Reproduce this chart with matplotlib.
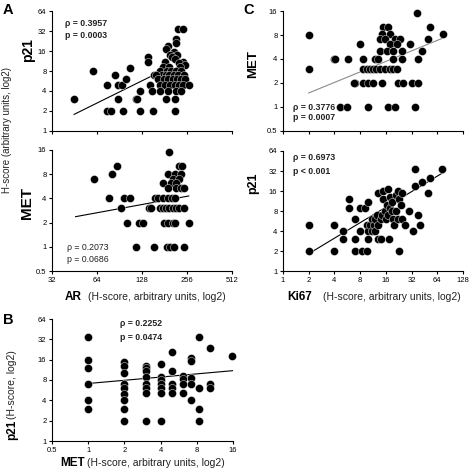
import matplotlib
matplotlib.use("Agg")
import matplotlib.pyplot as plt

plt.rcParams["font.family"] = ["Liberation Sans", "DejaVu Sans"]

# ---- panel A, top: AR vs p21 ----
a1_ar = [45, 60, 75, 75, 80, 85, 89, 94, 89, 96, 100, 106, 116, 119, 124, 124,
         140, 140, 144, 149, 151, 154,
         223, 240, 215, 215, 191, 185, 208, 198, 220, 203, 212, 182, 242, 225, 250,
         178, 194, 230, 170, 188, 200, 215, 235,
         175, 185, 195, 210, 222, 245, 160,
         165, 180, 190, 205, 218, 232, 250,
         170, 183, 197, 212, 228, 240, 262,
         168, 190, 215, 235, 185, 212, 213]
a1_p21 = [3, 8, 5, 2, 2, 7, 5, 5, 3, 2, 6, 9, 3, 3, 4, 2,
          13, 11, 5, 4, 2, 7,
          34, 34, 24, 21, 19, 17, 15.6, 14, 14, 13, 12, 11, 11, 10.5, 10,
          9.3, 9.3, 9.3, 8, 8, 8, 8, 8,
          7, 7, 7, 7, 7, 7, 7,
          6, 6, 6, 6, 6, 6, 6,
          5, 5, 5, 5, 5, 5, 5,
          4, 4, 4, 4, 3, 3, 2]
a1_fit_x = [45, 154]
a1_fit_y = [1.78, 7.0]

# ---- panel A, bottom: AR vs MET ----
a2_ar = [61, 77, 81, 87, 92, 97, 107, 102, 123, 129, 117, 142, 148, 154, 156,
         195, 225, 236, 190, 213, 232, 205, 225, 178, 200, 215,
         190, 215, 232, 245, 165, 178, 192, 202, 213,
         168, 176, 185, 195, 205, 215, 228, 243,
         180, 190, 205, 213, 262, 188, 198, 210, 243]
a2_met = [7, 4, 8, 10, 3, 4, 4, 2, 2, 2, 1, 3, 3, 1, 4,
          15, 10, 10, 8, 8, 8, 7, 7, 6.2, 6.2, 6.2,
          5.4, 5.4, 5.4, 5.4, 4, 4, 4, 4, 4,
          3, 3, 3, 3, 3, 3, 3, 3,
          2, 2, 2, 2, 2, 1, 1, 1, 1]
a2_fit_x = [46, 263]
a2_fit_y = [2.37, 4.29]

# ---- panel B: MET vs p21 ----
b_met = [1, 1, 1, 1, 1, 1,
         2, 2, 2, 2, 2, 2, 2, 2, 2,
         3, 3, 3, 3, 3, 3, 3, 3,
         4, 4, 4, 4, 4, 4, 4,
         5, 5, 5, 5, 5,
         6.2, 6.2, 6.2, 6.2,
         7.2, 7.2, 7.2, 7.2, 7.2,
         8.3, 8.3, 8.3, 8.3,
         10.3, 10.3, 10.3, 15.6]
b_p21 = [35, 16, 12, 7, 4, 3,
         15, 13, 10, 7, 6, 5, 4, 3, 2,
         13, 12, 11, 9, 7, 6, 5.2, 2,
         14, 9, 8, 7, 6, 5.1, 2,
         21, 11, 7, 6, 5.1,
         9.2, 8.2, 7, 5.1,
         16.7, 15.3, 8.5, 7, 4,
         35, 6, 3, 2,
         24, 7, 6, 18]
b_fit_x = [1, 16]
b_fit_y = [7.1, 11.0]

# ---- panel C, top: Ki67 vs MET ----
c1_ki67 = [2, 2, 4, 7,
           37, 15, 17, 53, 14.3, 17.9, 13.7, 15.7, 20.5, 23.5, 8,
           17.9, 21.4, 30.7, 50, 75,
           13.7, 16.3, 19.6, 24.5, 42,
           4.1, 5.8, 8.7, 12, 13, 19.6, 24.5, 38.5,
           8.7, 9.5, 10.4, 11.3, 12.3, 13.5, 15.6, 17.9, 19.6, 21.4,
           6.7, 8.7, 10, 11.4, 14.3, 22.4, 25.7, 32.2, 38.5,
           4.6, 5.6, 10, 17.1, 20.5, 35.2]
c1_met = [8, 3, 4, 2,
          15, 10, 10, 10, 8.2, 8.2, 7.1, 7.1, 7.1, 7.1, 6.1,
          6.1, 6.1, 6.1, 7.1, 8.3,
          5.1, 5.1, 5.1, 5.1, 5.1,
          4, 4, 4, 4, 4, 4, 4, 4,
          3, 3, 3, 3, 3, 3, 3, 3, 3, 3,
          2, 2, 2, 2, 2, 2, 2, 2, 2,
          1, 1, 1, 1, 1, 1]
c1_fit_x = [2, 74]
c1_fit_y = [1.5, 7.3]

# ---- panel C, bottom: Ki67 vs p21 ----
c2_ki67 = [2, 2, 4, 4, 5, 5, 6, 6, 7, 7, 7, 8, 9, 8, 8.5, 9.5, 10, 9.5, 10, 10,
           10.5, 11, 11, 11.5, 12, 12.5, 12, 13, 13, 13, 14, 14, 14.5, 15, 15,
           15.5, 16, 16.5, 17, 17, 17.5, 18, 18, 19, 19, 19.5, 20, 21, 21, 22,
           22, 23, 23, 24, 25, 25, 27, 30, 33, 35, 35, 38, 40, 42, 50, 52, 72]
c2_p21 = [5, 2, 5, 2, 4, 3, 12, 9, 6, 3, 2, 9, 9, 4, 2, 2, 11, 5, 3, 4,
          5, 6, 4, 5, 6, 7, 4, 5, 15, 3, 3, 6, 7, 16, 12,
          8, 6, 10, 17, 7, 3, 9, 13, 11, 8, 6, 5, 14, 8, 16,
          6, 12, 2, 10, 15, 6, 5, 8, 4, 19, 34, 7, 5, 22, 15, 25, 34]
c2_fit_x = [2, 74]
c2_fit_y = [1.82, 30]

W, H = 472, 471


def fpos(x, y):
    return x / W, 1 - y / H


def make_ax(fig, left, top, right, bottom):
    ax = fig.add_axes([left / W, 1 - bottom / H, (right - left) / W, (bottom - top) / H])
    ax.set_xscale("log", base=2)
    ax.set_yscale("log", base=2)
    for s in ("top", "right"):
        ax.spines[s].set_visible(False)
    for s in ("left", "bottom"):
        ax.spines[s].set_linewidth(0.8)
    ax.tick_params(direction="out", length=2.5, width=0.8, labelsize=5.5, pad=1.5)
    return ax


def set_ticks(ax, xt, yt, xlabels=True):
    ax.set_xlim(xt[0], xt[-1])
    ax.set_ylim(yt[0], yt[-1])
    ax.set_xticks(xt)
    ax.set_xticklabels([f"{v:g}" for v in xt] if xlabels else [])
    ax.set_yticks(yt)
    ax.set_yticklabels([f"{v:g}" for v in yt])
    ax.minorticks_off()


def draw(ax, x, y, fx, fy, lc="black"):
    ax.plot(fx, fy, color=lc, lw=0.8, zorder=2)
    ax.scatter(x, y, s=34, c="black", edgecolors="white", linewidths=0.3,
               zorder=3, clip_on=False)


fig = plt.figure(figsize=(W / 100, H / 100), dpi=100)

ar_ticks = [32, 64, 128, 256, 512]
ki_ticks = [1, 2, 4, 8, 16, 32, 64, 128]

ax = make_ax(fig, 52, 11, 232, 131)
draw(ax, a1_ar, a1_p21, a1_fit_x, a1_fit_y)
set_ticks(ax, ar_ticks, [1, 2, 4, 8, 16, 32, 64], xlabels=False)

ax = make_ax(fig, 52, 150, 232, 271)
draw(ax, a2_ar, a2_met, a2_fit_x, a2_fit_y)
set_ticks(ax, ar_ticks, [0.5, 1, 2, 4, 8, 16])

ax = make_ax(fig, 52, 319, 233, 441)
draw(ax, b_met, b_p21, b_fit_x, b_fit_y)
set_ticks(ax, [0.5, 1, 2, 4, 8, 16], [1, 2, 4, 8, 16, 32, 64])

ax = make_ax(fig, 283, 11, 463, 131)
draw(ax, c1_ki67, c1_met, c1_fit_x, c1_fit_y, lc="#8a8a8a")
set_ticks(ax, ki_ticks, [0.5, 1, 2, 4, 8, 16], xlabels=False)

ax = make_ax(fig, 283, 151, 463, 271)
draw(ax, c2_ki67, c2_p21, c2_fit_x, c2_fit_y)
set_ticks(ax, ki_ticks, [1, 2, 4, 8, 16, 32, 64])

# panel letters
for s, x, y in [("A", 3, 10), ("B", 3, 320), ("C", 243, 10)]:
    fig.text(*fpos(x, y), s, fontsize=10.5, fontweight="bold", ha="left", va="center")

# axis labels
fig.text(*fpos(7, 130), "H-score (arbitrary units, log2)", rotation=90,
         fontsize=7, ha="center", va="center", color="#222222")
fig.text(*fpos(28, 50), "p21", rotation=90, fontsize=10, fontweight="bold",
         ha="center", va="center")
fig.text(*fpos(27, 203), "MET", rotation=90, fontsize=11, fontweight="bold",
         ha="center", va="center")
fig.text(*fpos(253, 64), "MET", rotation=90, fontsize=9.5, fontweight="bold",
         ha="center", va="center")
fig.text(*fpos(253, 183), "p21", rotation=90, fontsize=9, fontweight="bold",
         ha="center", va="center")
fig.text(*fpos(12, 440), "p21", rotation=90, fontsize=8.5, fontweight="bold",
         ha="center", va="bottom")
fig.text(*fpos(12, 419), "(H-score, log2)", rotation=90, fontsize=7.5,
         ha="center", va="bottom", color="#222222")

for bold, bx, px_, y in [("AR", 65, 88, 297), ("MET", 60, 87, 463), ("Ki67", 287, 323, 297)]:
    fig.text(*fpos(bx, y), bold, fontsize=8.5, fontweight="bold", ha="left", va="center")
    fig.text(*fpos(px_, y), "(H-score, arbitrary units, log2)", fontsize=7.5,
             ha="left", va="center", color="#222222")

# correlation stats
stats = [("\u03c1 = 0.3957", "p = 0.0003", 65, 24, 36, "bold"),
         ("\u03c1 = 0.2073", "p = 0.0686", 67, 247, 259, "normal"),
         ("\u03c1 = 0.2252", "p = 0.0474", 120, 323, 337, "bold"),
         ("\u03c1 = 0.3776", "p = 0.0007", 293, 107, 117, "bold"),
         ("\u03c1 = 0.6973", "p < 0.001", 293, 158, 172, "bold")]
for r, p, x, y1, y2, w in stats:
    fig.text(*fpos(x, y1), r, fontsize=6.3, fontweight=w, ha="left", va="center", color="#222222")
    fig.text(*fpos(x, y2), p, fontsize=6.3, fontweight=w, ha="left", va="center", color="#222222")

fig.savefig("out.png", dpi=100)
